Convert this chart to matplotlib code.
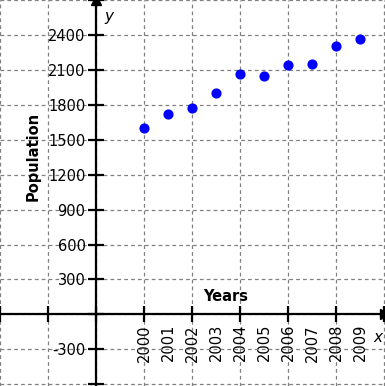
import matplotlib
matplotlib.use("Agg")
from matplotlib import pyplot as plt
import numpy as np

years = ['2000', '2001', '2002', '2003', '2004', '2005', '2006', '2007', '2008', '2009']
year_pos = [1, 1.5, 2, 2.5, 3, 3.5, 4, 4.5, 5, 5.5]
population = [1600, 1725, 1770, 1900, 2070, 2045, 2140, 2150, 2310, 2365]
y_labels = ['-300', '300', '600', '900', '1200', '1500', '1800', '2100', '2400']

plt.rcParams['font.family'] = 'DejaVu Sans'

fig = plt.figure(figsize=(3.85, 3.86), dpi=100)
ax = fig.add_axes([0, 0, 1, 1])

ax.set_xlim(-2, 6.02)
ax.set_ylim(-616, 2702)

ax.scatter(year_pos, population, s=40, color='#0000ff', zorder=5)

# axes through origin
for side in ['top', 'right']:
    ax.spines[side].set_visible(False)
ax.spines['left'].set_position(('data', 0))
ax.spines['bottom'].set_position(('data', 0))
ax.spines['left'].set_linewidth(1.6)
ax.spines['bottom'].set_linewidth(1.6)

# x: integer marks + gridlines, years as minor labels
ax.xaxis.remove_overlapping_locs = False
ax.set_xticks(range(-2, 7))
ax.set_xticklabels([])
ax.set_xticks(year_pos, minor=True)
ax.set_xticklabels(years, minor=True, rotation=90, fontsize=10.5)
ax.tick_params(axis='x', which='major', direction='inout', length=11, width=1.6)
ax.tick_params(axis='x', which='minor', length=0, pad=7)

yt = np.arange(-600, 2701, 300)
ax.set_yticks(yt)
ax.set_yticklabels([str(v) if str(v) in y_labels else '' for v in yt], fontsize=10.5)
ax.tick_params(axis='y', direction='inout', length=11, width=1.6, pad=2)

ax.grid(True, which='major', color='#808080', linestyle=(0, (3, 2.5)), linewidth=0.9)
ax.set_axisbelow(True)

# arrow heads
ax.plot(0, 1, marker='^', color='k', markersize=7, transform=ax.get_xaxis_transform(), clip_on=False)
ax.plot(1, 0, marker='>', color='k', markersize=7, transform=ax.get_yaxis_transform(), clip_on=False)

ax.text(0.18, 2560, 'y', fontsize=11, style='italic', ha='left', va='center')
ax.text(5.78, -200, 'x', fontsize=11, style='italic', ha='left', va='center')
ax.text(2.7, 155, 'Years', fontsize=10.5, fontweight='bold', ha='center', va='center')
ax.text(-1.3, 1360, 'Population', fontsize=10.5, fontweight='bold', rotation=90,
        ha='center', va='center')

fig.savefig('out.png', dpi=100)
